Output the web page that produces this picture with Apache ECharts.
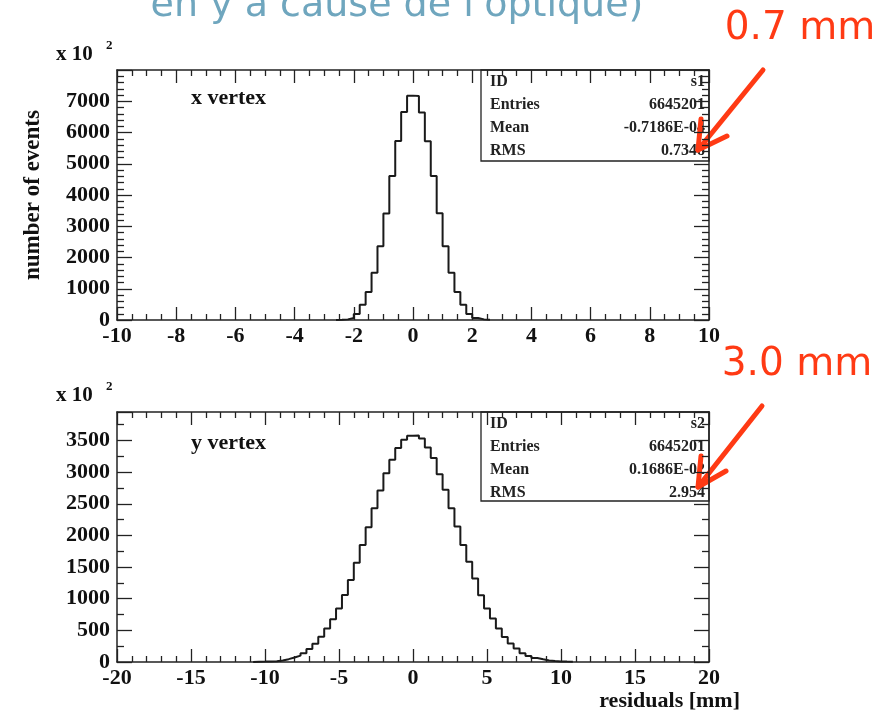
<!DOCTYPE html>
<html>
<head>
<meta charset="utf-8">
<script src="https://cdn.jsdelivr.net/npm/echarts@6/dist/echarts.min.js"></script>
<style>
  html, body { margin: 0; padding: 0; background: #fff; }
  #chart { width: 887px; height: 715px; }
</style>
</head>
<body>
<div id="chart"></div>
<script>
// x vertex residuals: bins of 0.2 mm starting at -2.6 (units of 10^2 events)
const X_BIN_START = -2.6
const X_BIN_WIDTH = 0.2
const xCounts = [
  5, 20, 65, 195, 490, 900, 1510, 2360, 3410, 4610, 5730, 6660, 7180,
  7170, 6640, 5720, 4610, 3420, 2360, 1510, 900, 490, 195, 65, 20, 5
]

// y vertex residuals: bins of 0.4 mm starting at -10.8
const Y_BIN_START = -10.8
const Y_BIN_WIDTH = 0.4
const yCounts = [
  5, 6, 8, 12, 25, 45, 70, 100, 140, 205, 290, 400, 529, 676, 846, 1060,
  1294, 1568, 1848, 2128, 2429, 2708, 2984, 3194, 3380, 3511, 3575,
  3580, 3530, 3390, 3222, 2968, 2720, 2430, 2139, 1849, 1584, 1321, 1056,
  845, 687, 529, 396, 291, 212, 140, 96, 64, 43, 25, 14, 9, 6, 5
]

const topStats = [['ID', 's1'], ['Entries', '6645201'], ['Mean', '-0.7186E-04'], ['RMS', '0.7348']]
const botStats = [['ID', 's2'], ['Entries', '6645201'], ['Mean', '0.1686E-02'], ['RMS', '2.954']]

const SERIF = '"Liberation Serif", "DejaVu Serif", serif'
const RED = '#ff3a14'

// histogram outline as step line: left edges + closing edge
const stepData = (start, w, counts) => {
  const d = [[start, 0]]
  counts.forEach((c, i) => d.push([+(start + i * w).toFixed(2), c]))
  d.push([+(start + counts.length * w).toFixed(2), 0])
  return d
}

const frameLine = { show: true, onZero: false, lineStyle: { color: '#222', width: 1.5 } }

const makeX = (grid, pos, min, max, interval, minorSplit, labels) => ({
  type: 'value', gridIndex: grid, position: pos, min, max, interval,
  axisLine: frameLine,
  axisTick: { show: true, inside: true, length: 13, lineStyle: { color: '#222', width: 1.3 } },
  minorTick: { show: true, splitNumber: minorSplit, length: 6, lineStyle: { color: '#222', width: 1.3 } },
  splitLine: { show: false },
  axisLabel: {
    show: labels, margin: 5, color: '#111', fontFamily: SERIF, fontWeight: 'bold', fontSize: 22,
    formatter: v => String(v)
  }
})

const makeY = (grid, pos, max, interval, minorSplit, labels, name) => ({
  type: 'value', gridIndex: grid, position: pos, min: 0, max, interval,
  axisLine: frameLine,
  axisTick: { show: true, inside: true, length: 15, lineStyle: { color: '#222', width: 1.3 } },
  minorTick: { show: true, splitNumber: minorSplit, length: 7, lineStyle: { color: '#222', width: 1.3 } },
  splitLine: { show: false },
  axisLabel: {
    show: labels, margin: 7, color: '#111', fontFamily: SERIF, fontWeight: 'bold', fontSize: 22,
    showMaxLabel: false, formatter: v => String(v)
  },
  name: name || '',
  nameLocation: 'middle', nameGap: 72, nameRotate: 90,
  nameTextStyle: { color: '#111', fontFamily: SERIF, fontWeight: 'bold', fontSize: 23 }
})

const txt = (x, y, text, opts) => ({
  type: 'text', x, y, silent: true,
  style: Object.assign({
    text, fill: '#111', font: 'bold 22px ' + SERIF, align: 'left', verticalAlign: 'middle'
  }, opts || {})
})

const statBox = (top, bottom, stats) => {
  const els = [{
    type: 'rect', silent: true,
    shape: { x: 481, y: top, width: 709 - 481, height: bottom - top },
    style: { fill: 'none', stroke: '#222', lineWidth: 1.3 }
  }]
  stats.forEach((s, i) => {
    const y = top + 12 + i * 23
    els.push(txt(490, y, s[0], { font: 'bold 16px ' + SERIF, fill: '#222' }))
    els.push(txt(705, y, s[1], { font: 'bold 16px ' + SERIF, fill: '#222', align: 'right' }))
  })
  return els
}

const arrow = (x0, y0, x1, y1, b1, b2) => [
  { type: 'line', silent: true, shape: { x1: x0, y1: y0, x2: x1, y2: y1 },
    style: { stroke: RED, lineWidth: 5, lineCap: 'round' } },
  { type: 'polyline', silent: true, shape: { points: [b1, [x1, y1], b2] },
    style: { stroke: RED, lineWidth: 5, lineCap: 'round', lineJoin: 'round', fill: 'none' } }
]

const chart = echarts.init(document.getElementById('chart'))

chart.setOption({
  animation: false,
  backgroundColor: '#fff',
  grid: [
    { left: 117, top: 70, width: 592, height: 250 },
    { left: 117, top: 412, width: 592, height: 250 }
  ],
  xAxis: [
    makeX(0, 'bottom', -10, 10, 2, 4, true),
    makeX(0, 'top', -10, 10, 2, 4, false),
    makeX(1, 'bottom', -20, 20, 5, 5, true),
    makeX(1, 'top', -20, 20, 5, 5, false)
  ],
  yAxis: [
    makeY(0, 'left', 8000, 1000, 5, true, 'number of events'),
    makeY(0, 'right', 8000, 1000, 5, false),
    makeY(1, 'left', 3950, 500, 2, true),
    makeY(1, 'right', 3950, 500, 2, false)
  ],
  series: [
    {
      type: 'line', xAxisIndex: 0, yAxisIndex: 0, step: 'end', symbol: 'none',
      lineStyle: { color: '#1a1a1a', width: 2 }, data: stepData(X_BIN_START, X_BIN_WIDTH, xCounts)
    },
    {
      type: 'line', xAxisIndex: 2, yAxisIndex: 2, step: 'end', symbol: 'none',
      lineStyle: { color: '#1a1a1a', width: 2 }, data: stepData(Y_BIN_START, Y_BIN_WIDTH, yCounts)
    }
  ],
  graphic: [
    txt(397, 6, 'en y à cause de l\'optique)', {
      font: '38px "DejaVu Sans", sans-serif', fill: '#6fa6be', align: 'center'
    }),
    txt(800, 29, '0.7 mm', { font: '39px "DejaVu Sans", sans-serif', fill: RED, align: 'center' }),
    txt(797, 365, '3.0 mm', { font: '39px "DejaVu Sans", sans-serif', fill: RED, align: 'center' }),
    txt(56, 55, 'x 10', { font: 'bold 21px ' + SERIF }),
    txt(106, 46, '2', { font: 'bold 13px ' + SERIF }),
    txt(56, 396, 'x 10', { font: 'bold 21px ' + SERIF }),
    txt(106, 387, '2', { font: 'bold 13px ' + SERIF }),
    txt(191, 98, 'x vertex'),
    txt(191, 443, 'y vertex'),
    txt(740, 701, 'residuals [mm]', { align: 'right' }),
    ...statBox(70, 161, topStats),
    ...statBox(412, 501, botStats),
    ...arrow(763, 70, 698, 150, [701, 119], [727, 136]),
    ...arrow(762, 406, 698, 487, [701, 456], [726, 471])
  ]
})
</script>
</body>
</html>
